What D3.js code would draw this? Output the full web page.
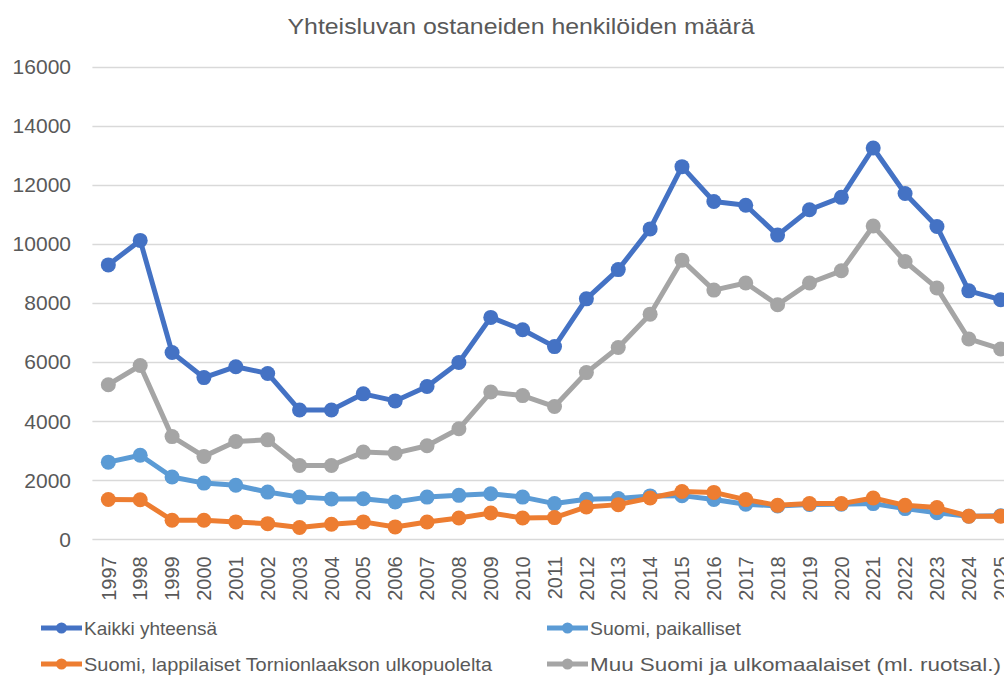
<!DOCTYPE html>
<html>
<head>
<meta charset="utf-8">
<script src="https://cdn.jsdelivr.net/npm/d3@7"></script>
<style>
	body { margin: 0; background: #fff; }
	svg { display: block; font-family: "Liberation Sans", Arial, sans-serif; }
</style>
</head>
<body>
<svg id="chart" width="1004" height="675"></svg>
<script>
// values
var years = ["1997", "1998", "1999", "2000", "2001", "2002", "2003", "2004", "2005", "2006",
	"2007", "2008", "2009", "2010", "2011", "2012", "2013", "2014", "2015", "2016",
	"2017", "2018", "2019", "2020", "2021", "2022", "2023", "2024", "2025"];

var kaikki = [9300, 10130, 6330, 5480, 5850, 5620, 4380, 4380, 4930, 4690,
	5180, 5990, 7520, 7100, 6530, 8150, 9140, 10520, 12630, 11450,
	11320, 10310, 11170, 11590, 13260, 11720, 10600, 8420, 8120];

var paikalliset = [2615, 2850, 2110, 1905, 1830, 1600, 1430, 1370, 1375, 1265,
	1430, 1490, 1545, 1430, 1210, 1360, 1380, 1470, 1480, 1350,
	1190, 1130, 1180, 1190, 1210, 1040, 900, 780, 800];

var lappilaiset = [1350, 1340, 645, 645, 590, 530, 400, 510, 590, 420,
	585, 720, 890, 720, 735, 1095, 1175, 1400, 1620, 1590,
	1345, 1150, 1210, 1210, 1400, 1150, 1075, 780, 780];

var muuSuomi = [5240, 5890, 3480, 2810, 3315, 3370, 2500, 2500, 2955, 2920,
	3170, 3745, 4990, 4870, 4500, 5650, 6500, 7630, 9460, 8445,
	8685, 7950, 8685, 9100, 10620, 9415, 8515, 6790, 6450];

var yTicks = [0, 2000, 4000, 6000, 8000, 10000, 12000, 14000, 16000];

var series = [
	{ name: "Kaikki yhteensä", values: kaikki, color: "#4472C4" },
	{ name: "Suomi, paikalliset", values: paikalliset, color: "#5B9BD5" },
	{ name: "Suomi, lappilaiset Tornionlaakson ulkopuolelta", values: lappilaiset, color: "#ED7D31" },
	{ name: "Muu Suomi ja ulkomaalaiset (ml. ruotsal.)", values: muuSuomi, color: "#A5A5A5" }
];

var svg = d3.select("#chart");
var textColor = "#595959";

var x = d3.scaleBand()
	.domain(years)
	.range([92.4, 92.4 + 29 * 31.87])
	.padding(0);

var y = d3.scaleLinear()
	.domain([0, 16000])
	.range([539.3, 67.2]);

// title
svg.append("text")
	.attr("x", 521)
	.attr("y", 34)
	.attr("text-anchor", "middle")
	.attr("font-size", 22)
	.attr("fill", textColor)
	.attr("textLength", 467)
	.attr("lengthAdjust", "spacingAndGlyphs")
	.text("Yhteisluvan ostaneiden henkilöiden määrä");

// gridlines
svg.append("g")
	.selectAll("line")
	.data(yTicks)
	.join("line")
	.attr("x1", x.range()[0])
	.attr("x2", x.range()[1])
	.attr("y1", function (d) { return Math.round(y(d)) + 0.5; })
	.attr("y2", function (d) { return Math.round(y(d)) + 0.5; })
	.attr("stroke", "#D9D9D9")
	.attr("stroke-width", 1.5);

// y axis labels
var yAxis = d3.axisLeft(y).tickValues(yTicks).tickSize(0).tickPadding(0).tickFormat(d3.format("d"));
var gy = svg.append("g")
	.attr("transform", "translate(71,0)")
	.call(yAxis);
gy.select(".domain").remove();
gy.selectAll("text")
	.attr("font-size", 21)
	.attr("font-family", "Liberation Sans, Arial, sans-serif")
	.attr("fill", textColor);

// x axis labels (rotated)
var xAxis = d3.axisBottom(x).tickSize(0).tickPadding(0);
var gx = svg.append("g")
	.attr("transform", "translate(0,539.3)")
	.call(xAxis);
gx.select(".domain").remove();
gx.selectAll("text")
	.attr("font-size", 20)
	.attr("font-family", "Liberation Sans, Arial, sans-serif")
	.attr("fill", textColor)
	.attr("text-anchor", "end")
	.attr("transform", "rotate(-90)")
	.attr("x", -17)
	.attr("y", 0)
	.attr("dy", "0.36em");

// lines and markers
var line = d3.line()
	.x(function (d, i) { return x(years[i]) + x.bandwidth() / 2; })
	.y(function (d) { return y(d); });

series.forEach(function (s) {
	var g = svg.append("g");
	g.append("path")
		.datum(s.values)
		.attr("d", line)
		.attr("fill", "none")
		.attr("stroke", s.color)
		.attr("stroke-width", 5)
		.attr("stroke-linejoin", "round")
		.attr("stroke-linecap", "round");
	g.selectAll("circle")
		.data(s.values)
		.join("circle")
		.attr("cx", function (d, i) { return x(years[i]) + x.bandwidth() / 2; })
		.attr("cy", function (d) { return y(d); })
		.attr("r", 7.5)
		.attr("fill", s.color);
});

// legend
var legendPos = [
	{ x: 41, y: 628, w: 133 },
	{ x: 547, y: 628, w: 151 },
	{ x: 41, y: 664, w: 408 },
	{ x: 547, y: 664, w: 411 }
];

series.forEach(function (s, i) {
	var p = legendPos[i];
	var g = svg.append("g").attr("transform", "translate(" + p.x + "," + p.y + ")");
	g.append("line")
		.attr("x1", 0).attr("x2", 41)
		.attr("y1", 0).attr("y2", 0)
		.attr("stroke", s.color)
		.attr("stroke-width", 5);
	g.append("circle")
		.attr("cx", 20.5).attr("cy", 0).attr("r", 5.5)
		.attr("fill", s.color);
	g.append("text")
		.attr("x", 43)
		.attr("y", 0)
		.attr("dy", "0.35em")
		.attr("font-size", 19)
		.attr("fill", textColor)
		.attr("textLength", p.w)
		.attr("lengthAdjust", "spacingAndGlyphs")
		.text(s.name);
});
</script>
</body>
</html>
